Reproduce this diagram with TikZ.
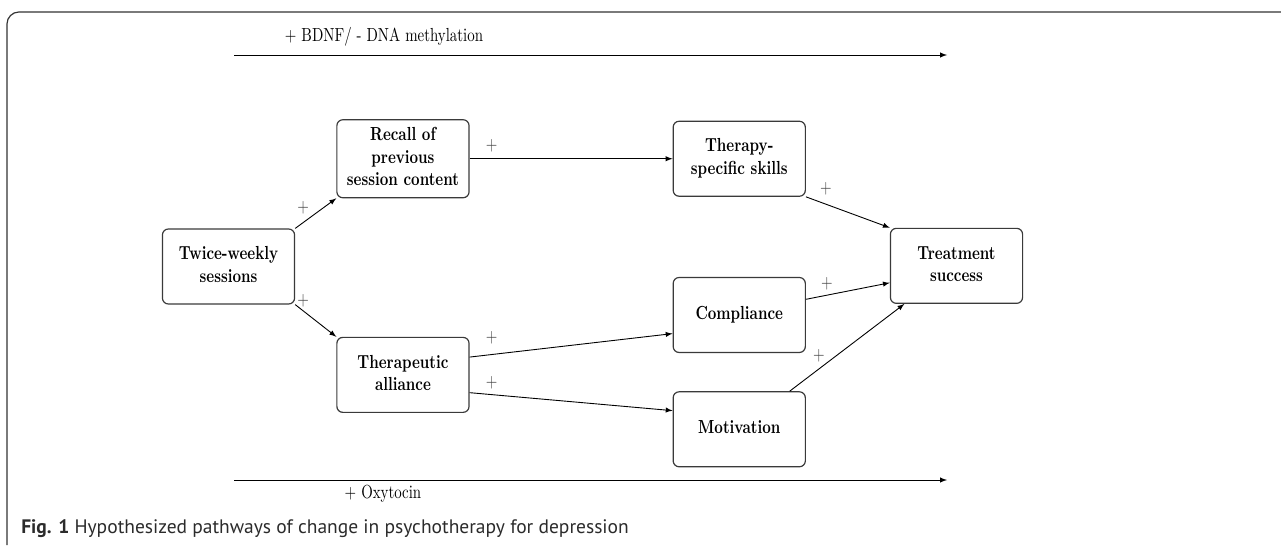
\documentclass[tikz,border=0pt]{standalone}
\usepackage{fontspec}
\usepackage{graphicx}
\newfontfamily\capfont{PT Sans}
\usetikzlibrary{positioning}
\definecolor{framegray}{HTML}{333333}
\definecolor{boxgray}{HTML}{3A3A3A}
\definecolor{capgray}{HTML}{2B2B2B}
% the figure is set a little taller than wide
\newcommand\tallbox[1]{\scalebox{1}[1.27]{\begin{tabular}{@{}c@{}}#1\end{tabular}}}
\newcommand\boxtext[1]{\scalebox{1}[1.27]{\bfseries\begin{tabular}{@{}c@{}}#1\end{tabular}}}

\begin{document}
\begin{tikzpicture}[x=0.0236cm,y=-0.0236cm,>=latex,
	box/.style={draw=boxgray,line width=0.8pt,rounded corners=4pt,
		minimum width=3.12cm,minimum height=1.77cm},
	sign/.style={inner sep=1pt,text=black!75}]
		\useasboundingbox (0,0) rectangle (1281,545);
		\draw [framegray,line width=0.8pt,rounded corners=8pt] (7,545) -- (7,12) -- (1281,12);

		\node [box] (twice) at (228.5,266.5) {\boxtext{Twice-weekly\\sessions}};
		\node [box,above right=0.71cm and 0.97cm of twice] (recall) {\boxtext{Recall of\\previous\\session content}};
		\node [box,below right=0.76cm and 0.97cm of twice] (alliance) {\boxtext{Therapeutic\\alliance}};
		\node [box,right=4.79cm of recall] (skills) {\boxtext{Therapy-\\specific skills}};
		\node [box,below=1.89cm of skills] (compliance) {\boxtext{Compliance}};
		\node [box,below=0.9cm of compliance] (motivation) {\boxtext{Motivation}};
		\node [box,below right=0.73cm and 1.98cm of skills] (success) {\boxtext{Treatment\\success}};

		\draw [->,line width=0.6pt] (twice.north east) -- (recall.south west);
		\draw [->,line width=0.6pt] (twice.south east) -- (alliance.north west);
		\draw [->,line width=0.6pt] (recall) -- (skills);
		\draw [->,line width=0.6pt] (skills.south east) -- (success.north west);
		\draw [->,line width=0.6pt] ([yshift=0.42cm]alliance.east) -- ([yshift=-0.44cm]compliance.west);
		\draw [->,line width=0.6pt] ([yshift=-0.42cm]alliance.east) -- ([yshift=0.44cm]motivation.west);
		\draw [->,line width=0.6pt] ([yshift=0.37cm]compliance.east) -- ([yshift=-0.4cm]success.west);
		\draw [->,line width=0.6pt] ([xshift=1.19cm]motivation.north) -- ([xshift=-1.23cm]success.south);

		\node [sign] (p1) at ([shift={(8,-20)}]twice.north east) {\tallbox{$+$}};
		\node [sign] (p2) at ([shift={(8,-4)}]twice.south east) {\tallbox{$+$}};
		\node [sign] (p3) at ([shift={(22,-13)}]recall.east) {\tallbox{$+$}};
		\node [sign] (p4) at ([shift={(20,-8)}]skills.south east) {\tallbox{$+$}};
		\node [sign] (p5) at ([shift={(22,-36.5)}]alliance.east) {\tallbox{$+$}};
		\node [sign] (p6) at ([shift={(22,8.5)}]alliance.east) {\tallbox{$+$}};
		\node [sign] (p7) at ([shift={(21,-31.5)}]compliance.east) {\tallbox{$+$}};
		\node [sign] (p8) at ([shift={(13,-35)}]motivation.north east) {\tallbox{$+$}};

		% pathways along the whole course
		\coordinate (bdnfstart) at (234,55);
		\coordinate (bdnfend) at (947,55);
		\draw [->,line width=0.6pt] (bdnfstart) -- (bdnfend);
		\node (bdnf) at (384,37) {\tallbox{$+$ BDNF/ - DNA methylation}};

		\coordinate (oxystart) at (234,480);
		\coordinate (oxyend) at (947,480);
		\draw [->,line width=0.6pt] (oxystart) -- (oxyend);
		\node (oxy) at (383,494) {\tallbox{$+$ Oxytocin}};

		\node [anchor=west,inner sep=0pt,text=capgray,font={\capfont\fontsize{13.1}{15}\selectfont}] (caption) at (21,529)
			{\textbf{Fig. 1} Hypothesized pathways of change in psychotherapy for depression};
	\end{tikzpicture}
\end{document}
